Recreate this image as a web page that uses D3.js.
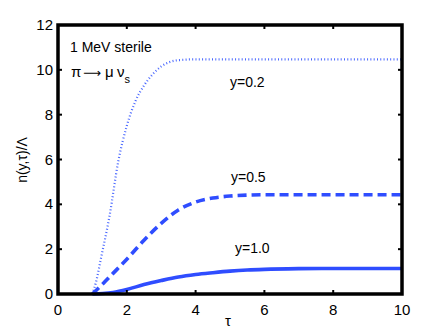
<!DOCTYPE html>
<html>
<head>
<meta charset="utf-8">
<script src="https://d3js.org/d3.v7.min.js"></script>
<style>
  body { margin: 0; background: #fff; }
  text { font-family: "Liberation Sans", Arial, sans-serif; fill: #000; }
</style>
</head>
<body>
<svg id="chart" width="443" height="333"></svg>
<script>
var tauDotted = [1, 1.1, 1.25, 1.5, 1.75, 2.0, 2.25, 2.5, 2.75, 3.0, 3.25, 3.5, 4, 5, 6, 8, 10];
var nY02 = [0, 0.5, 1.6, 3.5, 5.9, 7.5, 8.6, 9.3, 9.8, 10.15, 10.35, 10.43, 10.47, 10.47, 10.47, 10.47, 10.47];

var tauDashed = [1, 1.3, 1.6, 2.0, 2.5, 3.0, 3.5, 4.0, 4.5, 5.0, 5.5, 6, 7, 8, 10];
var nY05 = [0, 0.45, 0.92, 1.55, 2.4, 3.15, 3.75, 4.1, 4.28, 4.37, 4.41, 4.43, 4.43, 4.43, 4.43];

var tauSolid = [1, 1.3, 1.6, 2.0, 2.5, 3.0, 3.5, 4.0, 4.5, 5.0, 5.5, 6, 7, 8, 10];
var nY10 = [0, 0.02, 0.07, 0.2, 0.42, 0.6, 0.76, 0.87, 0.95, 1.02, 1.07, 1.1, 1.13, 1.14, 1.14];

var xTicks = [0, 2, 4, 6, 8, 10];
var yTicks = [0, 2, 4, 6, 8, 10, 12];

var svg = d3.select("#chart");
var L = 58, R = 402, T = 25, B = 294;

var x = d3.scaleLinear().domain([0, 10]).range([L, R]);
var y = d3.scaleLinear().domain([0, 12]).range([B, T]);

var blue = "#2f4dff";
var line = d3.line().curve(d3.curveMonotoneX);

function draw(ts, vs, width, dash, color) {
    svg.append("path")
        .attr("d", line(ts.map(function (t, i) { return [x(t), y(vs[i])]; })))
        .attr("fill", "none")
        .attr("stroke", color)
        .attr("stroke-width", width)
        .attr("stroke-dasharray", dash);
}

draw(tauDotted, nY02, 2.2, "1,2.3", "#4a68ff");
draw(tauDashed, nY05, 3.6, "9,5", blue);
draw(tauSolid, nY10, 3.6, null, blue);

// inward ticks, all four sides
var tk = 4;
xTicks.forEach(function (t) {
    if (t > 0 && t < 10) {
        svg.append("line").attr("x1", x(t)).attr("x2", x(t)).attr("y1", B).attr("y2", B - tk).attr("stroke", "#000").attr("stroke-width", 2);
        svg.append("line").attr("x1", x(t)).attr("x2", x(t)).attr("y1", T).attr("y2", T + tk).attr("stroke", "#000").attr("stroke-width", 2);
    }
    svg.append("text").attr("x", x(t)).attr("y", B + 21).attr("text-anchor", "middle").attr("font-size", 15).text(t);
});
yTicks.forEach(function (v) {
    if (v > 0 && v < 12) {
        svg.append("line").attr("x1", L).attr("x2", L + tk).attr("y1", y(v)).attr("y2", y(v)).attr("stroke", "#000").attr("stroke-width", 2);
        svg.append("line").attr("x1", R).attr("x2", R - tk).attr("y1", y(v)).attr("y2", y(v)).attr("stroke", "#000").attr("stroke-width", 2);
    }
    svg.append("text").attr("x", L - 5).attr("y", y(v) + 5).attr("text-anchor", "end").attr("font-size", 15).text(v);
});

svg.append("rect").attr("x", L).attr("y", T).attr("width", R - L).attr("height", B - T)
    .attr("fill", "none").attr("stroke", "#000").attr("stroke-width", 3.5);

// labels
svg.append("text").attr("x", 228).attr("y", 326).attr("text-anchor", "middle").attr("font-size", 15).text("τ");
svg.append("text").attr("transform", "translate(27,160) rotate(-90)").attr("text-anchor", "middle")
    .attr("font-size", 14).text("n(y,τ)/Λ");

svg.append("text").attr("x", 70).attr("y", 52).attr("font-size", 14).text("1 MeV sterile");
var pi = svg.append("text").attr("y", 77).attr("font-size", 15);
pi.append("tspan").attr("x", 71).text("π");
pi.append("tspan").attr("x", 83).style("font-family", "DejaVu Sans").attr("font-size", 12.5).text("⟶");
pi.append("tspan").attr("x", 105).text("μ");
pi.append("tspan").attr("x", 117).text("ν");
pi.append("tspan").attr("dy", 6).attr("font-size", 11).text("s");

svg.append("text").attr("x", 230).attr("y", 87).attr("font-size", 14).text("y=0.2");
svg.append("text").attr("x", 231).attr("y", 182).attr("font-size", 14).text("y=0.5");
svg.append("text").attr("x", 235).attr("y", 253).attr("font-size", 14).text("y=1.0");
</script>
</body>
</html>
